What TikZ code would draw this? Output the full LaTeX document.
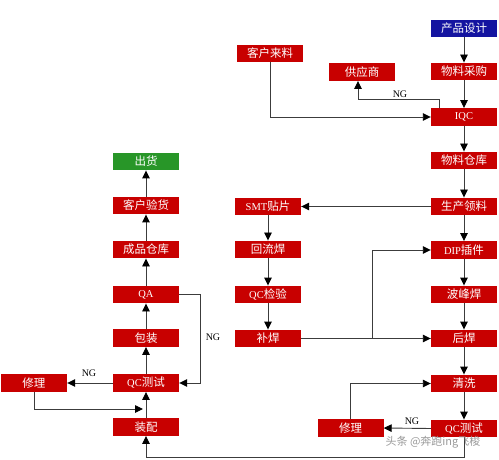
\documentclass[tikz,border=0pt]{standalone}
\usepackage{fontspec}
\setmainfont{Liberation Serif}
\newfontfamily\cjk{Noto Sans CJK SC}
\usetikzlibrary{arrows.meta}
\definecolor{boxred}{RGB}{200,0,0}
\definecolor{boxblue}{RGB}{20,20,160}
\definecolor{boxgreen}{RGB}{40,150,40}
\definecolor{linegray}{RGB}{60,60,60}
\newcommand{\lt}[1]{{\rmfamily\fontsize{10.5}{12}\selectfont #1}}
\begin{document}
\begin{tikzpicture}[x=1pt,y=-1pt,
  box/.style={rectangle,fill=boxred,minimum width=66pt,minimum height=17.5pt,inner sep=0pt,
    text=white,font=\cjk\fontsize{11.5}{13}\selectfont},
  conn/.style={draw=linegray,line width=0.9pt,-{Triangle[length=8pt,width=7.5pt,color=black]}},
  nglabel/.style={font=\rmfamily\fontsize{10}{12}\selectfont,text=black,inner sep=0pt}]
\useasboundingbox (0,0) rectangle (499,460);
% right column
\node[box,fill=boxblue] (pd) at (464,28.5) {产品设计};
\node[box] (wl) at (464,71.5) {物料采购};
\node[box] (iqc) at (464,117) {\lt{IQC}};
\node[box] (wc) at (464,160.5) {物料仓库};
\node[box] (sl) at (464,206.5) {生产领料};
\node[box] (dip) at (464,250) {\lt{DIP}插件};
\node[box] (bf) at (464,294.5) {波峰焊};
\node[box] (hh) at (464,338.5) {后焊};
\node[box] (qx) at (464,383.5) {清洗};
\node[box] (qct) at (464,428.5) {\lt{QC}测试};
\node[box] (khl) at (270,53.5) {客户来料};
\node[box] (gys) at (362,72) {供应商};
\node[box] (xl2) at (350.5,428) {修理};
% middle column
\node[box] (smt) at (268,206.5) {\lt{SMT}贴片};
\node[box] (hlh) at (268,249.5) {回流焊};
\node[box] (qcj) at (268,294.5) {\lt{QC}检验};
\node[box] (bh) at (268,338.5) {补焊};
% left column
\node[box,fill=boxgreen] (ch) at (146,161.5) {出货};
\node[box] (khy) at (146,205.5) {客户验货};
\node[box] (cp) at (146,249.5) {成品仓库};
\node[box] (qa) at (146,294.5) {\lt{QA}};
\node[box] (bz) at (146,338) {包装};
\node[box] (qcl) at (146,383) {\lt{QC}测试};
\node[box] (zp) at (146,427) {装配};
\node[box] (xl1) at (34,383) {修理};
% coordinates
\coordinate (j1) at (372,338.5);
\coordinate (m1) at (143,409);
% right column flow
\draw[conn] (pd) -- (wl);
\draw[conn] (wl) -- (iqc);
\draw[conn] (iqc) -- (wc);
\draw[conn] (wc) -- (sl);
\draw[conn] (sl) -- (dip);
\draw[conn] (dip) -- (bf);
\draw[conn] (bf) -- (hh);
\draw[conn] (hh) -- (qx);
\draw[conn] (qx) -- (qct);
\draw[conn] (khl.south) |- (iqc.west);
\draw[conn] ([xshift=9pt]iqc.north west) |- ++(0,-9) -| ([xshift=-4pt]gys.south);
\node[nglabel] (ng1) at (400,94) {NG};
\draw[conn] (qct.west) -- (xl2.east);
\node[nglabel] (ng2) at (412,421) {NG};
\draw[conn] (xl2.north) |- (qx.west);
\draw[conn] (qct.south) -- ++(0,20) -| (zp.south);
% middle flow
\draw[conn] (sl.west) -- (smt.east);
\draw[conn] (smt) -- (hlh);
\draw[conn] (hlh) -- (qcj);
\draw[conn] (qcj) -- (bh);
\draw[conn] (bh.east) -- (hh.west);
\draw[conn] (j1) |- (dip.west);
% left flow
\draw[conn] (zp) -- (qcl);
\draw[conn] (qcl) -- (bz);
\draw[conn] (bz) -- (qa);
\draw[conn] (qa) -- (cp);
\draw[conn] (cp) -- (khy);
\draw[conn] (khy) -- (ch);
\draw[conn] (qcl.west) -- (xl1.east);
\node[nglabel] (ng3) at (89,373) {NG};
\draw[conn] (xl1.south) |- (m1);
\draw[conn] (qa.east) -- ++(21,0) |- (qcl.east);
\node[nglabel] (ng4) at (213,337) {NG};
% watermark
\node[font=\cjk\fontsize{11}{13}\selectfont,text=gray!80,inner sep=0pt] (wm) at (433,442) {头条 @奔跑ing飞梭};
\end{tikzpicture}
\end{document}
